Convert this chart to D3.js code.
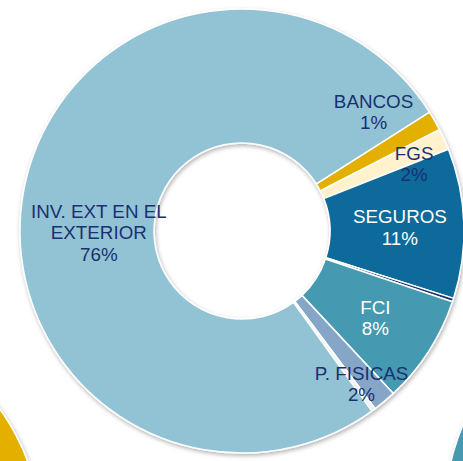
<!DOCTYPE html>
<html>
<head>
<meta charset="utf-8">
<script src="https://cdn.jsdelivr.net/npm/d3@7"></script>
<style>
  body { margin: 0; background: #fff; }
  svg { display: block; }
</style>
</head>
<body>
<div id="chart"></div>
<script>
// données (en %)
var categories = ["BANCOS", "FGS", "SEGUROS", "", "FCI", "P. FISICAS", "", "INV. EXT EN EL\nEXTERIOR"];
var valeurs = [1.45, 1.55, 10.9, 0.25, 7.9, 1.7, 0.3, 75.9];
var couleurs = ["#e3b000", "#fff2cc", "#0a6a9b", "#1c3566", "#4499b0", "#86a6c8", "#eef2f5", "#92c3d5"];
var couleursTexte = ["#1a3070", "#1a3070", "#ffffff", null, "#ffffff", "#1a3070", null, "#1a3070"];
// décalage des étiquettes par rapport au centroïde
var decalages = [[-3, -42], [31, -3], [3, 2], [0, 0], [3, 3], [20, 34], [0, 0], [9, 31]];

// morceaux des graphiques voisins (coupés par le cadre)
var voisins = [
  {cx: -182, cy: 540, debut: 40, fin: 130, couleur: "#e3b000"},
  {cx: 669, cy: 513, debut: 250, fin: 300, couleur: "#4499b0"}
];

var width = 463, height = 461;
var cx = 242, cy = 231;
var rInt = 88, rExt = 222;
var debut = 57.6 * Math.PI / 180;

var svg = d3.select("#chart").append("svg")
  .attr("width", width)
  .attr("height", height);

// ombre portée
var filtre = svg.append("defs").append("filter")
  .attr("id", "ombre")
  .attr("x", "-20%").attr("y", "-20%")
  .attr("width", "140%").attr("height", "140%");
filtre.append("feDropShadow")
  .attr("dx", 1).attr("dy", 2)
  .attr("stdDeviation", 2)
  .attr("flood-color", "#000")
  .attr("flood-opacity", 0.3);

var data = categories.map((c, i) => ({name: c, value: valeurs[i], i: i}));

var pie = d3.pie()
  .sort(null)
  .value(d => d.value)
  .startAngle(debut)
  .endAngle(debut + 2 * Math.PI);

var arc = d3.arc().innerRadius(rInt).outerRadius(rExt);
var arcLabel = d3.arc().innerRadius(155).outerRadius(155);
var formatp = d3.format(".0%");
var total = d3.sum(valeurs);

var arcs = pie(data);

// voisins
var arcVoisin = d3.arc().innerRadius(90).outerRadius(224);
svg.append("g")
  .selectAll("path")
  .data(voisins)
  .join("path")
    .attr("transform", d => `translate(${d.cx},${d.cy})`)
    .attr("d", d => arcVoisin({startAngle: d.debut * Math.PI / 180, endAngle: d.fin * Math.PI / 180}))
    .attr("fill", d => d.couleur)
    .attr("stroke", "#fff")
    .attr("stroke-width", 1.5)
    .attr("filter", "url(#ombre)");

var g = svg.append("g")
  .attr("transform", `translate(${cx},${cy})`);

g.append("g")
    .attr("filter", "url(#ombre)")
  .selectAll("path")
  .data(arcs)
  .join("path")
    .attr("fill", d => couleurs[d.data.i])
    .attr("stroke", "#fff")
    .attr("stroke-width", 1.5)
    .attr("d", arc);

// étiquettes
var lh = 21.5;
g.append("g")
    .attr("font-family", "Arial, 'Liberation Sans', sans-serif")
    .attr("font-size", 18.8)
    .attr("text-anchor", "middle")
  .selectAll("text")
  .data(arcs.filter(d => d.data.name != ""))
  .join("text")
    .attr("fill", d => couleursTexte[d.data.i])
    .attr("transform", d => {
      var c = arcLabel.centroid(d);
      var o = decalages[d.data.i];
      return `translate(${c[0] + o[0]},${c[1] + o[1]})`;
    })
    .each(function(d) {
      var lignes = d.data.name.split("\n").concat([formatp(d.data.value / total)]);
      var y0 = -(lignes.length - 1) * lh / 2 + 6.5;
      d3.select(this).selectAll("tspan")
        .data(lignes)
        .join("tspan")
          .attr("x", 0)
          .attr("y", (l, k) => y0 + k * lh)
          .text(l => l);
    });
</script>
</body>
</html>
